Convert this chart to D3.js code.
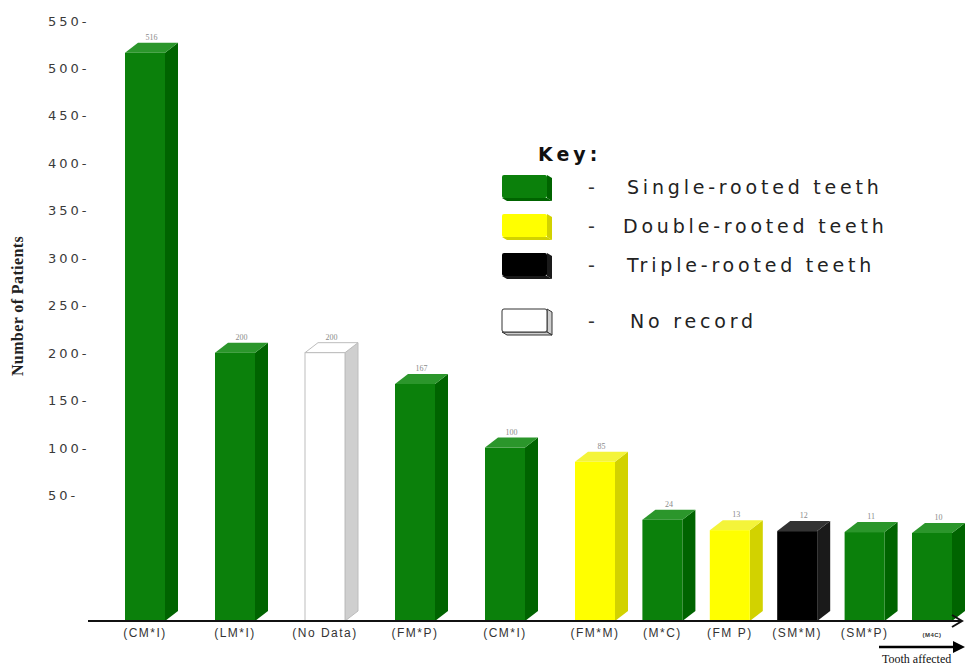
<!DOCTYPE html>
<html>
<head>
<meta charset="utf-8">
<script src="https://cdn.jsdelivr.net/npm/d3@7"></script>
<style>
  html, body { margin: 0; padding: 0; background: #fff; }
  svg { display: block; }
</style>
</head>
<body>
<svg id="chart" width="966" height="666"></svg>
<script>
// Teeth affected, number of patients per tooth group
const categories = ["(CM*I)", "(LM*I)", "(No Data)", "(FM*P)", "(CM*I)", "(FM*M)", "(M*C)", "(FM P)", "(SM*M)", "(SM*P)", "(M4C)"];
const patients = [516, 200, 200, 167, 100, 85, 24, 13, 12, 11, 10];
const rootType = ["single", "single", "none", "single", "single", "double", "single", "double", "triple", "single", "single"];
const yTicks = [50, 100, 150, 200, 250, 300, 350, 400, 450, 500, 550];

const keyTypes = ["single", "double", "triple", "none"];
const keyLabels = ["Single-rooted teeth", "Double-rooted teeth", "Triple-rooted teeth", "No record"];

const palette = {
  single: { front: "#0b800b", side: "#006400", top: "#2b962b", stroke: "none" },
  double: { front: "#ffff00", side: "#d2d200", top: "#f4f43a", stroke: "none" },
  triple: { front: "#000000", side: "#1a1a1a", top: "#333333", stroke: "none" },
  none:   { front: "#ffffff", side: "#cfcfcf", top: "#ffffff", stroke: "#bdbdbd" }
};

const svg = d3.select("#chart");
const baseY = 621;      // floor line of the bars
const depthX = 13, depthY = 10;
const barW = 40;

const y = d3.scaleLinear().domain([0, 550]).range([542.5, 20.5]);
// bars are spaced wider for the first six groups, tighter after
const x = d3.scaleLinear().domain([0, 5, 10]).range([145, 595, 932]);

// y axis: tick labels only
const yAxis = d3.axisLeft(y).tickValues(yTicks).tickSize(0).tickFormat(d => d + "-");
const yg = svg.append("g").attr("transform", "translate(48,0)").call(yAxis);
yg.select(".domain").remove();
yg.selectAll("text")
  .attr("x", 0)
  .attr("text-anchor", "start")
  .attr("dy", "0.35em")
  .style("font-family", "'DejaVu Sans', Verdana, sans-serif")
  .style("font-size", "13px")
  .style("letter-spacing", "3px")
  .style("fill", "#3a3a3a");

svg.append("text")
  .attr("transform", "translate(23,306) rotate(-90)")
  .attr("text-anchor", "middle")
  .style("font-family", "'Liberation Serif', 'Times New Roman', serif")
  .style("font-weight", "bold")
  .style("font-size", "16px")
  .style("letter-spacing", "0.4px")
  .style("fill", "#222")
  .text("Number of Patients");

// 3D bars
const bars = svg.append("g").selectAll("g.bar")
  .data(patients.map((v, i) => ({ v, i, type: rootType[i], cat: categories[i] })))
  .join("g").attr("class", "bar");

bars.each(function(d) {
  const g = d3.select(this);
  const c = palette[d.type];
  const x0 = x(d.i) - barW / 2, x1 = x0 + barW;
  const yt = y(d.v);
  // side face
  g.append("path")
    .attr("d", `M${x1},${yt} L${x1 + depthX},${yt - depthY} L${x1 + depthX},${baseY - depthY} L${x1},${baseY} Z`)
    .attr("fill", c.side).attr("stroke", c.stroke);
  // top face
  g.append("path")
    .attr("d", `M${x0},${yt} L${x0 + depthX},${yt - depthY} L${x1 + depthX},${yt - depthY} L${x1},${yt} Z`)
    .attr("fill", c.top).attr("stroke", c.stroke);
  // front face
  g.append("rect")
    .attr("x", x0).attr("y", yt)
    .attr("width", barW).attr("height", baseY - yt)
    .attr("fill", c.front).attr("stroke", c.stroke);
  // value label
  g.append("text")
    .attr("x", x(d.i) + depthX / 2)
    .attr("y", yt - depthY - 3)
    .attr("text-anchor", "middle")
    .style("font-family", "'Liberation Serif', 'Times New Roman', serif")
    .style("font-size", "8px")
    .style("fill", "#8a8a8a")
    .text(d.v);
});

// baseline with open arrow head
svg.append("line")
  .attr("x1", 88).attr("x2", 961).attr("y1", baseY).attr("y2", baseY)
  .attr("stroke", "#111").attr("stroke-width", 2);
svg.append("path")
  .attr("d", `M952,${baseY - 6} L962,${baseY} L952,${baseY + 6}`)
  .attr("fill", "none").attr("stroke", "#111").attr("stroke-width", 2);

// category labels
const last = categories.length - 1;
svg.append("g").selectAll("text")
  .data(categories)
  .join("text")
  .attr("x", (d, i) => x(i))
  .attr("y", 637)
  .attr("text-anchor", "middle")
  .style("font-family", "'Liberation Sans', Arial, sans-serif")
  .style("font-size", (d, i) => i === last ? "6px" : "12px")
  .style("font-weight", (d, i) => i === last ? "bold" : "normal")
  .style("letter-spacing", (d, i) => i === last ? "0.5px" : "1.5px")
  .style("fill", "#333")
  .text(d => d);

// "Tooth affected" arrow
svg.append("line")
  .attr("x1", 879).attr("x2", 956).attr("y1", 647).attr("y2", 647)
  .attr("stroke", "#000").attr("stroke-width", 2.5);
svg.append("path")
  .attr("d", "M953,641 L965,647 L953,653 Z")
  .attr("fill", "#000");
svg.append("text")
  .attr("x", 882).attr("y", 663)
  .style("font-family", "'Liberation Serif', 'Times New Roman', serif")
  .style("font-size", "12px")
  .style("fill", "#111")
  .text("Tooth affected");

// key
const key = svg.append("g");
key.append("text")
  .attr("x", 538).attr("y", 161)
  .style("font-family", "'DejaVu Sans', Verdana, sans-serif")
  .style("font-weight", "bold")
  .style("font-size", "19px")
  .style("letter-spacing", "4px")
  .style("fill", "#111")
  .text("Key:");

const keyY = d3.scalePoint().domain(keyTypes.slice(0, 3)).range([187, 265]);
const keyRowY = t => t === "none" ? 321 : keyY(t);

keyTypes.forEach((t, i) => {
  const c = palette[t];
  const cy = keyRowY(t);
  const sx = 502, sw = 45, sh = 23, sy = cy - 12;
  const outline = t === "none" ? "#333" : "none";
  // block swatch with a shallow bevel
  key.append("path")
    .attr("d", `M${sx + sw},${sy} L${sx + sw + 5},${sy + 3} L${sx + sw + 5},${sy + sh + 3} L${sx + sw},${sy + sh} Z`)
    .attr("fill", c.side).attr("stroke", outline);
  key.append("path")
    .attr("d", `M${sx},${sy + sh} L${sx + 5},${sy + sh + 3} L${sx + sw + 5},${sy + sh + 3} L${sx + sw},${sy + sh} Z`)
    .attr("fill", c.side).attr("stroke", outline);
  key.append("rect")
    .attr("x", sx).attr("y", sy).attr("width", sw).attr("height", sh)
    .attr("rx", 2)
    .attr("fill", c.front).attr("stroke", outline);
  key.append("text")
    .attr("x", 588).attr("y", cy).attr("dy", "0.35em")
    .style("font-family", "'DejaVu Sans', Verdana, sans-serif")
    .style("font-size", "19px")
    .style("fill", "#333")
    .text("-");
  key.append("text")
    .attr("x", t === "double" ? 623 : (t === "none" ? 630 : 627))
    .attr("y", cy).attr("dy", "0.35em")
    .style("font-family", "'DejaVu Sans', Verdana, sans-serif")
    .style("font-size", "19px")
    .style("letter-spacing", "3.8px")
    .style("fill", "#222")
    .text(keyLabels[i]);
});
</script>
</body>
</html>
